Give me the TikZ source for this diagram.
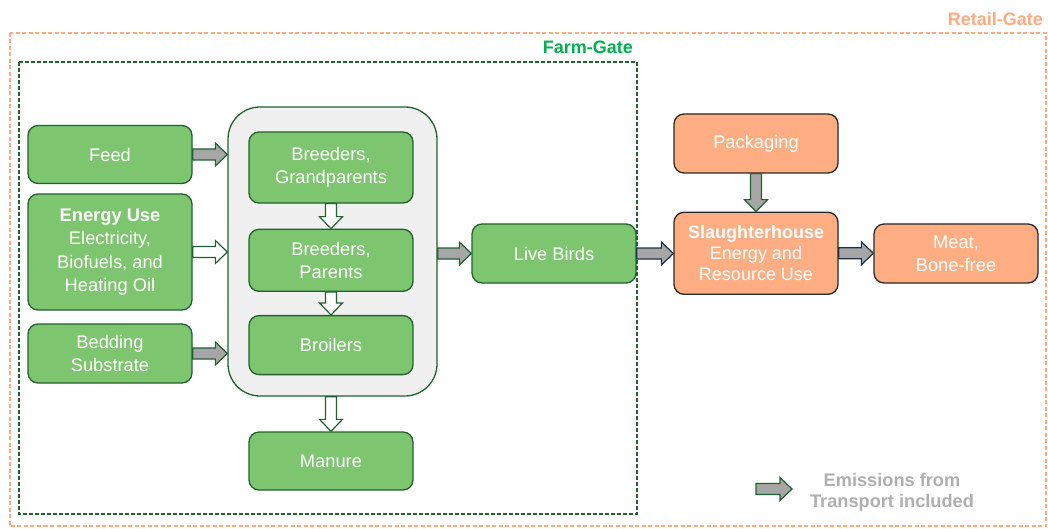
\documentclass[tikz,border=0pt]{standalone}
\usepackage{fontspec}
\setmainfont{Liberation Sans}
\usetikzlibrary{positioning,calc}
\definecolor{FarmGreen}{RGB}{126,197,112}
\definecolor{FarmEdge}{RGB}{34,96,50}
\definecolor{GateGreen}{RGB}{0,176,80}
\definecolor{RetailOrange}{RGB}{255,174,132}
\definecolor{RetailText}{RGB}{255,170,130}
\definecolor{BoxEdge}{RGB}{40,40,40}
\definecolor{PanelGray}{RGB}{240,240,240}
\definecolor{ArrowGray}{RGB}{166,166,166}
\definecolor{NavyEdge}{RGB}{30,50,70}
\definecolor{NoteGray}{RGB}{175,175,175}
\tikzset{
  farmbox/.style={draw=FarmEdge,fill=FarmGreen,line width=1.3pt,rounded corners=10pt,
    text=white,align=center,minimum width=164pt,inner sep=2pt,
    font=\fontsize{18.3}{23}\selectfont},
  retailbox/.style={farmbox,draw=BoxEdge,fill=RetailOrange},
  panel/.style={draw=FarmEdge,fill=PanelGray,line width=1.3pt,rounded corners=32pt,
    minimum width=209pt,minimum height=289pt},
  gatelabel/.style={font=\bfseries\fontsize{18}{21}\selectfont,anchor=east,inner sep=0pt},
  graypipe/.style={draw=FarmEdge,fill=ArrowGray,line width=1.2pt},
  whitepipe/.style={draw=FarmEdge,fill=white,line width=1.2pt},
  navypipe/.style={draw=NavyEdge,fill=ArrowGray,line width=1.2pt}
}
% block arrow from #2 to #3, style #1
\newcommand\blockarrow[3][]{%
  \path (#2) coordinate (bas) (#3) coordinate (bae);
  \pgfpointdiff{\pgfpointanchor{bas}{center}}{\pgfpointanchor{bae}{center}}%
  \pgfgetlastxy\bdx\bdy
  \pgfmathsetmacro\bang{atan2(\bdy,\bdx)}%
  \pgfmathsetmacro\blen{veclen(\bdx,\bdy)}%
  \draw[#1,shift={(bas)},rotate=\bang] (0pt,-5.5pt) -- (\blen pt-12pt,-5.5pt)
    -- (\blen pt-12pt,-11.5pt) -- (\blen pt,0pt) -- (\blen pt-12pt,11.5pt)
    -- (\blen pt-12pt,5.5pt) -- (0pt,5.5pt) -- cycle;
}

\begin{document}
\begin{tikzpicture}[x=1pt,y=-1pt]
  \useasboundingbox (0,0) rectangle (1048,529);
  \draw[RetailText,line width=1.2pt,dash pattern=on 4pt off 2.5pt] (10,33) rectangle (1046,526);
  \node[gatelabel,text=RetailText] (retail) at (1043,19) {Retail-Gate};
  \draw[FarmEdge,line width=1.3pt,dash pattern=on 4pt off 2pt] (19,62) rectangle (637,514);
  \node[gatelabel,text=GateGreen] (farm) at (633,47) {Farm-Gate};

  \node[farmbox,minimum height=58pt] (feed) at (110,154.5) {Feed};
  \node[farmbox,minimum height=116pt,font=\fontsize{18.3}{23.3}\selectfont] (energy) at (110,252)
    {\textbf{Energy Use}\\Electricity,\\Biofuels, and\\Heating Oil};
  \node[farmbox,minimum height=59pt] (bedding) at (110,353.5) {Bedding\\Substrate};

  \node[panel] (cont) at (332.5,251.5) {};
  \node[farmbox,minimum height=71pt] (gp) at (331,167.5) {Breeders,\\Grandparents};
  \node[farmbox,minimum height=62pt,below=25pt of gp] (parents) {Breeders,\\Parents};
  \node[farmbox,minimum height=59pt,below=23pt of parents] (broilers) {Broilers};
  \node[farmbox,minimum height=58pt] (manure) at (331,461) {Manure};

  \node[farmbox,minimum height=59pt] (live) at (554,253.5) {Live Birds};
  \node[retailbox,minimum height=59pt] (pack) at (756,143.5) {Packaging};
  \node[retailbox,minimum height=82pt,below=38pt of pack,font=\fontsize{18}{21}\selectfont] (slaughter)
    {\textbf{Slaughterhouse}\\Energy and\\Resource Use};
  \node[retailbox,minimum height=59pt] (meat) at (956,253.5) {Meat,\\Bone-free};

  \blockarrow[graypipe]{feed.east}{cont.west |- feed.east}
  \blockarrow[whitepipe]{energy.east}{cont.west |- energy.east}
  \blockarrow[graypipe]{bedding.east}{cont.west |- bedding.east}
  \blockarrow[whitepipe]{gp.south}{parents.north}
  \blockarrow[whitepipe]{parents.south}{broilers.north}
  \blockarrow[whitepipe]{cont.south -| manure.north}{manure.north}
  \blockarrow[graypipe]{cont.east |- live.west}{live.west}
  \blockarrow[navypipe]{live.east}{slaughter.west |- live.east}
  \blockarrow[navypipe]{slaughter.east}{meat.west |- slaughter.east}
  \blockarrow[graypipe]{pack.south}{slaughter.north}

  \coordinate (legA) at (756,489);
  \coordinate (legB) at (792,489);
  \blockarrow[graypipe]{legA}{legB}
  \node[font=\bfseries\fontsize{18.2}{21}\selectfont,text=NoteGray,align=center] (note) at (892,492)
    {Emissions from\\Transport included};
\end{tikzpicture}
\end{document}
